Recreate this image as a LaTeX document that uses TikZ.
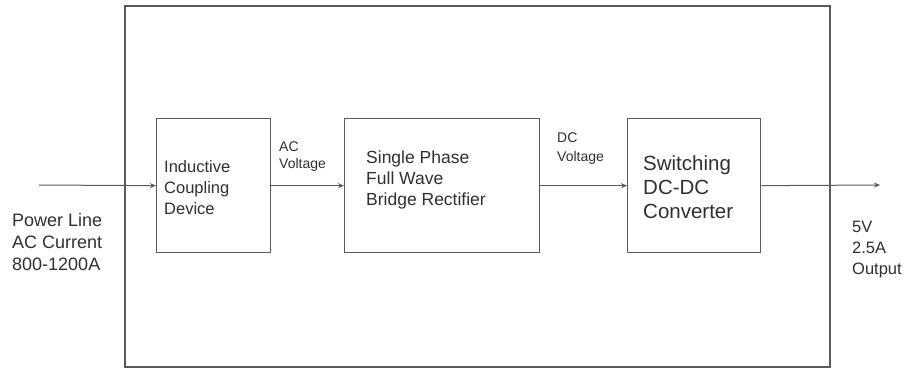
\documentclass[tikz,border=0pt]{standalone}
\usepackage{fontspec}
\setmainfont{Liberation Sans}
\usetikzlibrary{arrows.meta}
\definecolor{linegray}{HTML}{5A5A5A}
\definecolor{txtgray}{HTML}{303030}
\tikzset{
  box/.style={draw=linegray, line width=1.3pt, inner sep=0pt, anchor=north west},
  lbl/.style={text=txtgray, inner sep=0pt, anchor=north west, align=left},
  arr/.style={draw=linegray, line width=1pt, -{Stealth[length=6pt,width=5pt]}}
}
\newcommand{\fs}[2]{\fontsize{#1}{#2}\selectfont}
\begin{document}
\begin{tikzpicture}[x=1pt,y=-1pt]
\useasboundingbox (0,0) rectangle (909,368);
\fill[white] (0,0) rectangle (909,368);
\node[draw=linegray, line width=1.8pt, inner sep=0pt, anchor=north west, minimum width=705, minimum height=361] (outer) at (124,5) {};
\node[box, minimum width=114, minimum height=134] (icd) at (156,118) {};
\node[box, minimum width=195, minimum height=134] (rect) at (344,118) {};
\node[box, minimum width=133, minimum height=134] (conv) at (627,118) {};
\coordinate (in) at (39,185);
\coordinate (out) at (880,185);
\draw[arr] (in) -- (icd.west);
\draw[arr] (icd.east) -- (rect.west);
\draw[arr] (rect.east) -- (conv.west);
\draw[arr] (conv.east) -- (out);
\node[lbl, font=\fs{18}{22}] (tin) at (12,213) {Power Line\\AC Current\\800-1200A};
\node[lbl, font=\fs{16.5}{21}] (ticd) at (164,160.1) {Inductive\\Coupling\\Device};
\node[lbl, font=\fs{14}{17}] (tac) at (279,142) {AC\\Voltage};
\node[lbl, font=\fs{17.5}{21}] (trect) at (366,150.4) {Single Phase\\Full Wave\\Bridge Rectifier};
\node[lbl, font=\fs{14}{19}] (tdc) at (557,133) {DC\\Voltage};
\node[lbl, font=\fs{20.5}{24}] (tconv) at (643,155.2) {Switching\\DC-DC\\Converter};
\node[lbl, font=\fs{16.5}{21}] (tout) at (852,221.1) {5V\\2.5A\\Output};
\end{tikzpicture}
\end{document}
